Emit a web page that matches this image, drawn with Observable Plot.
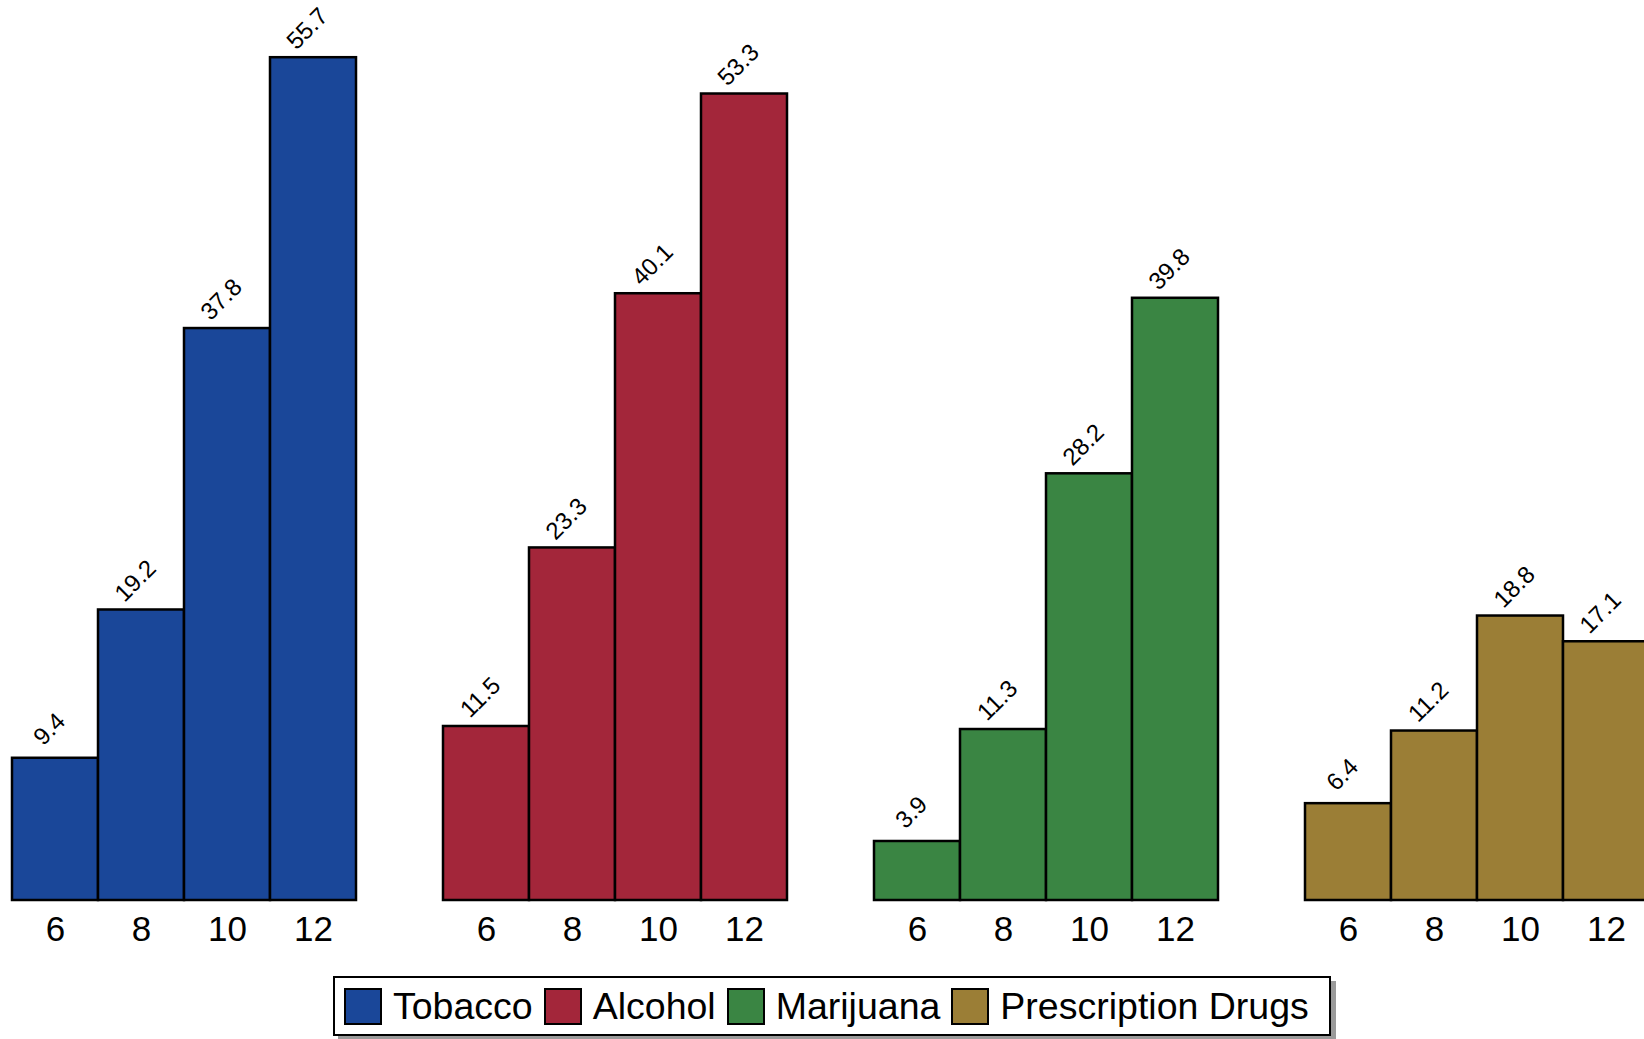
<!DOCTYPE html>
<html><head><meta charset="utf-8">
<script src="https://cdn.jsdelivr.net/npm/d3@7"></script>
<script src="https://cdn.jsdelivr.net/npm/@observablehq/plot@0.6"></script>
<style>
html,body{margin:0;padding:0;background:#fff;overflow:hidden;width:1644px;height:1039px;}
#chart{position:absolute;left:0;top:0;}
#legend{position:absolute;left:333px;top:976px;height:60px;box-sizing:border-box;border:2px solid #000;background:#fff;
  box-shadow:5px 5px 0 #9a9a9a;display:flex;align-items:center;padding:0 20px 0 9px;
  font-family:"Liberation Sans",Arial,sans-serif;font-size:37.5px;color:#000;white-space:nowrap;}
.item{display:flex;align-items:center;margin-right:11px;}
.item:last-child{margin-right:0;}
.sw{width:38px;height:37px;box-sizing:border-box;border:2.5px solid #000;margin-right:11px;}
</style></head><body>
<div id="chart"></div><div id="legend"></div>
<script>
const substances = ["Tobacco", "Alcohol", "Marijuana", "Prescription Drugs"];
const grades = ["6", "8", "10", "12"];
const tobacco = [9.4, 19.2, 37.8, 55.7];
const alcohol = [11.5, 23.3, 40.1, 53.3];
const marijuana = [3.9, 11.3, 28.2, 39.8];
const prescription = [6.4, 11.2, 18.8, 17.1];
const colors = ["#1a4799", "#a3263a", "#3a8543", "#9b7e36"];

const series = [tobacco, alcohol, marijuana, prescription];
const rows = [];
substances.forEach((s, i) => grades.forEach((g, j) => rows.push({substance: s, grade: g, value: series[i][j]})));

const chart = Plot.plot({
  width: 1644, height: 960,
  marginTop: 0, marginBottom: 60, marginLeft: 10, marginRight: -6,
  style: {fontFamily: '"Liberation Sans", Arial, sans-serif', fontSize: "35px", color: "black", background: "transparent", overflow: "visible"},
  facet: {data: rows, x: "substance"},
  fx: {domain: substances, paddingInner: 0.198, paddingOuter: 0, axis: null, label: null},
  x: {domain: grades, padding: 0, tickSize: 0, tickPadding: 16, label: null},
  y: {domain: [0, 59.48], axis: null},
  color: {domain: substances, range: colors},
  marks: [
    Plot.barY(rows, {x: "grade", y: "value", fill: "substance", stroke: "black", strokeWidth: 2.5, inset: 0}),
    Plot.text(rows, {x: "grade", y: "value", text: d => d.value.toFixed(1), rotate: -45, dx: -6, dy: -29, fontSize: 24, fill: "black", textAnchor: "middle"})
  ]
});
document.getElementById("chart").appendChild(chart);

const legend = document.getElementById("legend");
substances.forEach((s, i) => {
  const it = document.createElement("div");
  it.className = "item";
  const sw = document.createElement("div");
  sw.className = "sw";
  sw.style.background = colors[i];
  const t = document.createElement("span");
  t.textContent = s;
  it.appendChild(sw); it.appendChild(t);
  legend.appendChild(it);
});
</script>
</body></html>
